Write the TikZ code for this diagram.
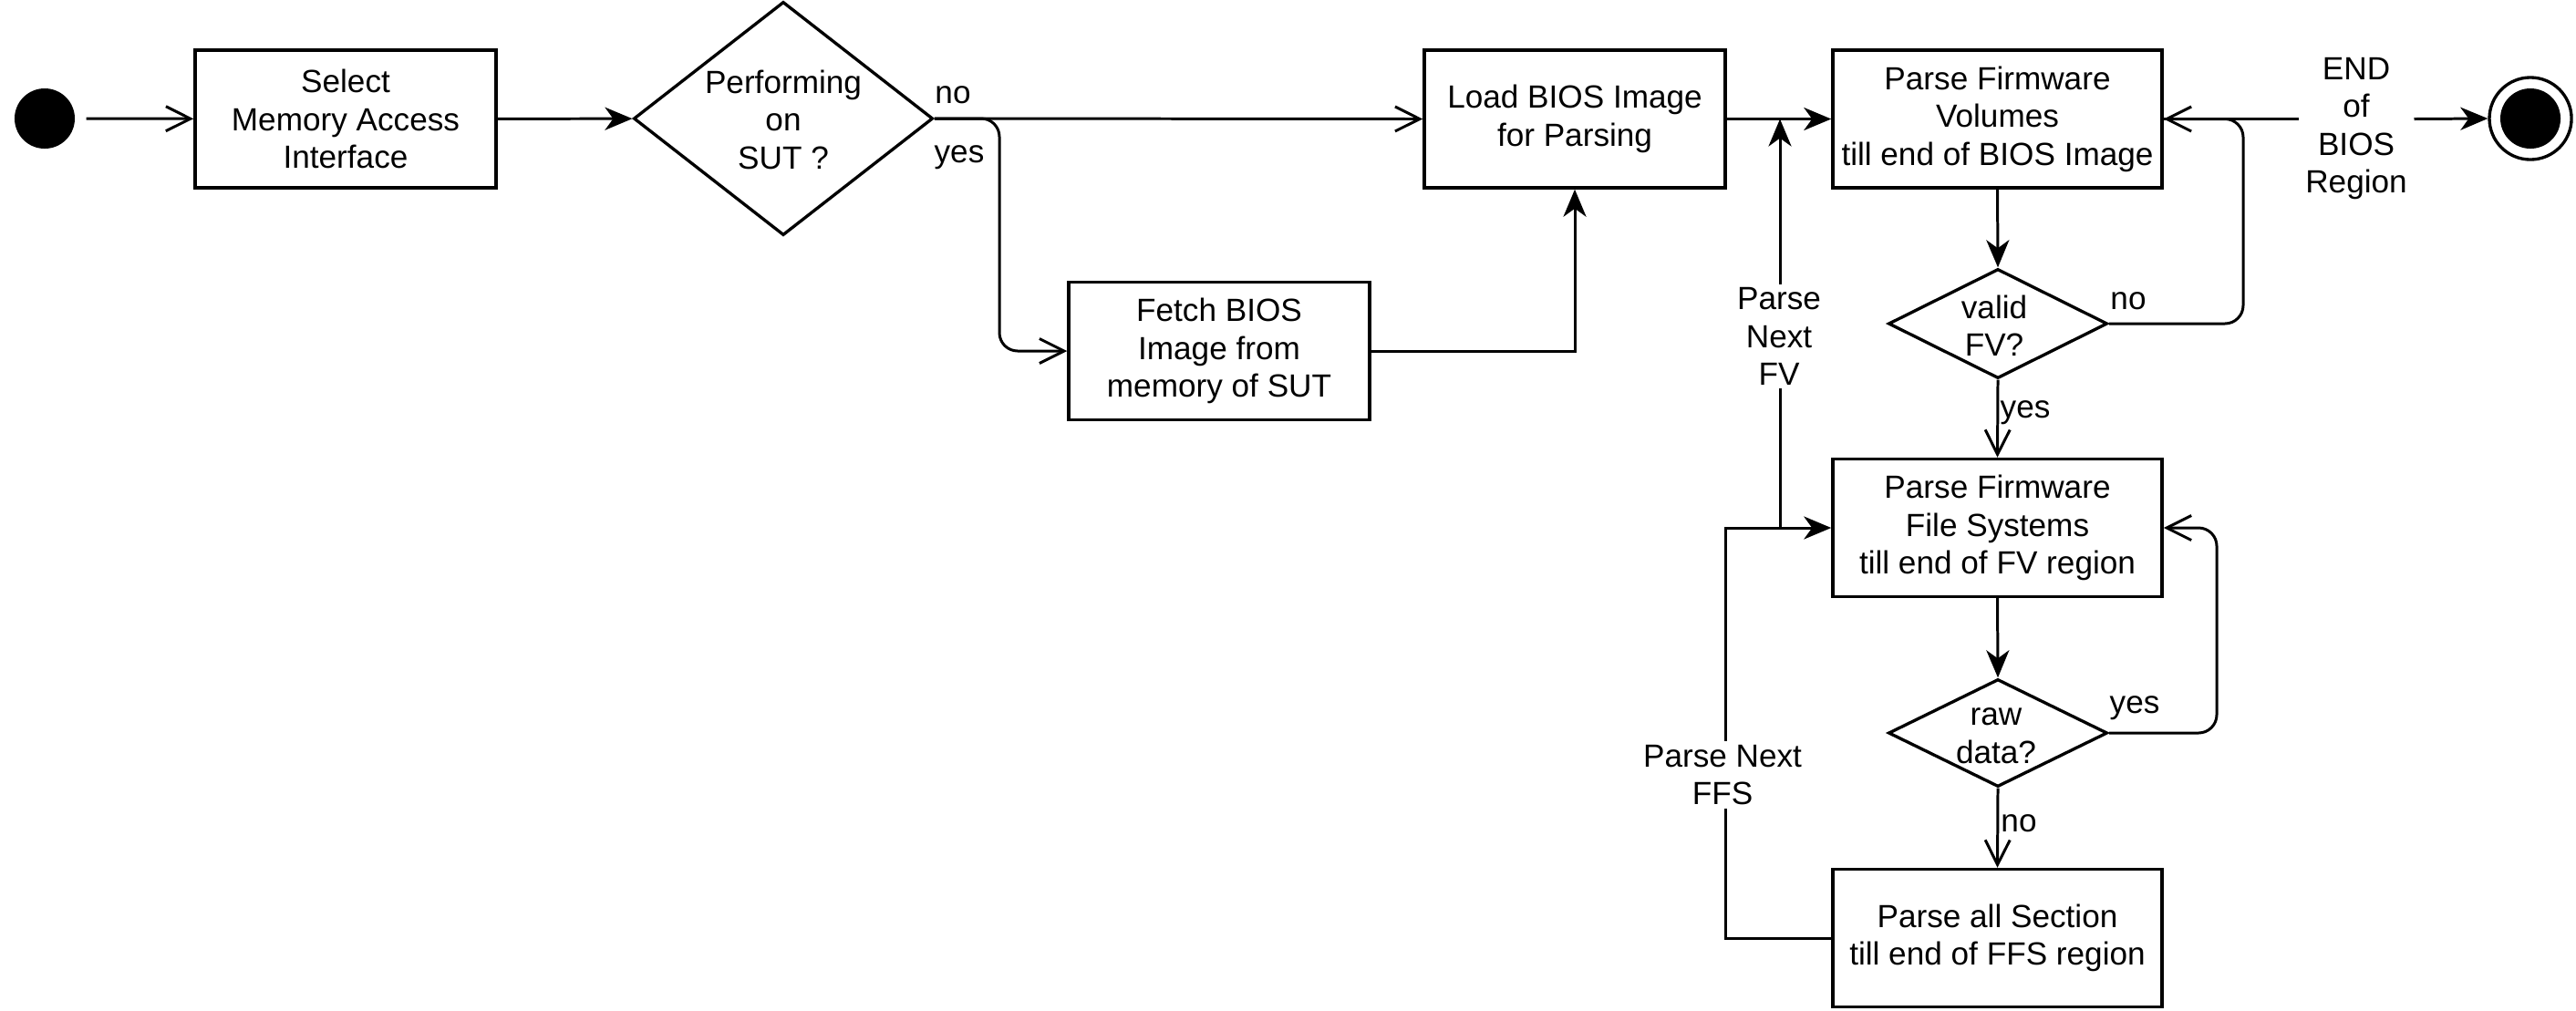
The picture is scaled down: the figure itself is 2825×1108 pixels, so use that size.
\documentclass[tikz,border=0pt]{standalone}
\usepackage{fontspec}
\setmainfont{Liberation Sans}
\usetikzlibrary{arrows.meta,shapes.geometric}
\begin{document}
\begin{tikzpicture}[x=0.01cm,y=-0.01cm]
\tikzset{
  every node/.style={font=\fontsize{10}{11.8}\selectfont},
  box/.style={draw, line width=0.95pt, minimum height=1.51cm, inner sep=0pt, align=center},
  dec/.style={draw, diamond, line width=0.95pt, inner sep=0pt},
  txt/.style={align=center, inner sep=0pt},
  lbl/.style={inner sep=0pt},
  gaplbl/.style={align=center, fill=white, inner xsep=2pt, inner ysep=1pt},
  conn/.style={line width=0.85pt},
  openarr/.style={conn, -{Straight Barb[length=2.7mm, width=2.7mm]}},
  fillarr/.style={conn, -{Stealth[length=3mm, width=2.5mm, inset=0.9mm]}},
}
\useasboundingbox (0,0) rectangle (2825,1108);

% start / end
\node[circle, fill=black, minimum size=0.66cm, inner sep=0pt] (start) at (49,130) {};
\node[circle, draw, line width=0.95pt, minimum size=0.9cm, inner sep=0pt] (end) at (2775,130) {};
\node[circle, fill=black, minimum size=0.66cm, inner sep=0pt] (endin) at (end) {};

% boxes
\node[box, minimum width=3.3cm] (sel) at (379,130.5) {Select\\Memory Access\\Interface};
\node[box, minimum width=3.3cm] (load) at (1727,130.5) {Load BIOS Image\\for Parsing};
\node[box, minimum width=3.3cm] (fetch) at (1337,385) {Fetch BIOS\\Image from\\memory of SUT};
\node[box, minimum width=3.61cm] (pfv) at (2190.5,130.5) {Parse Firmware\\Volumes\\till end of BIOS Image};
\node[box, minimum width=3.61cm] (pffs) at (2190.5,579) {Parse Firmware\\File Systems\\till end of FV region};
\node[box, minimum width=3.61cm] (psec) at (2190.5,1029) {Parse all Section\\till end of FFS region};

% decisions
\node[dec, minimum width=3.28cm, minimum height=2.56cm] (d1) at (859,130) {};
\node[txt] (d1t) at (859,131) {Performing\\on\\SUT ?};
\node[dec, minimum width=2.4cm, minimum height=1.2cm] (dv) at (2191,355) {};
\node[txt] (dvt) at (2187,357) {valid\\FV?};
\node[dec, minimum width=2.4cm, minimum height=1.18cm] (dr) at (2191,804) {};
\node[txt] (drt) at (2189,807) {raw\\data?};

% connectors
\draw[openarr, shorten <=0.12cm] (start) -- (sel);
\draw[fillarr] (sel) -- (d1);
\draw[openarr] (d1.east) -- (load.west);
\node[lbl] (lno1) at (1045,104) {no};
\draw[openarr, rounded corners=0.2cm] (d1.east) -- (1096,130) |- (fetch.west);
\node[lbl] (lyes1) at (1052,173) {yes};
\draw[fillarr] (fetch.east) -| (load.south);
\draw[fillarr] (load.east) -- (pfv.west);
\draw[fillarr] (pfv.south) -- (dv.north);

\draw[openarr, rounded corners=0.2cm] (dv.east) -- (2460,355) |- (pfv.east);
\node[lbl] (lno2) at (2334,330) {no};

\node[gaplbl] (endlbl) at (2584,141) {END\\of\\BIOS\\Region};
\draw[conn] (pfv.east) -- (endlbl.west |- pfv.east);
\draw[fillarr] (endlbl.east |- pfv.east) -- (end.west);

\draw[openarr] (dv.south) -- (pffs.north);
\node[lbl] (lyes2) at (2221,453) {yes};
\draw[fillarr] (pffs.south) -- (dr.north);
\draw[openarr, rounded corners=0.2cm] (dr.east) -- (2431,804) |- (pffs.east);
\node[lbl] (lyes3) at (2341,777) {yes};
\draw[openarr] (dr.south) -- (psec.north);
\node[lbl] (lno3) at (2214,903) {no};

\draw[fillarr] (psec.west) -- (1892,1029) |- (pffs.west);
\coordinate (jn) at (1952,579);
\coordinate (jt) at (1952,130.5);
\draw[fillarr] (jn) -- (jt);
\node[gaplbl] (lffs) at (1889,850) {Parse Next\\FFS};
\node[gaplbl] (lfv) at (1951,369) {Parse\\Next\\FV};
\end{tikzpicture}
\end{document}
